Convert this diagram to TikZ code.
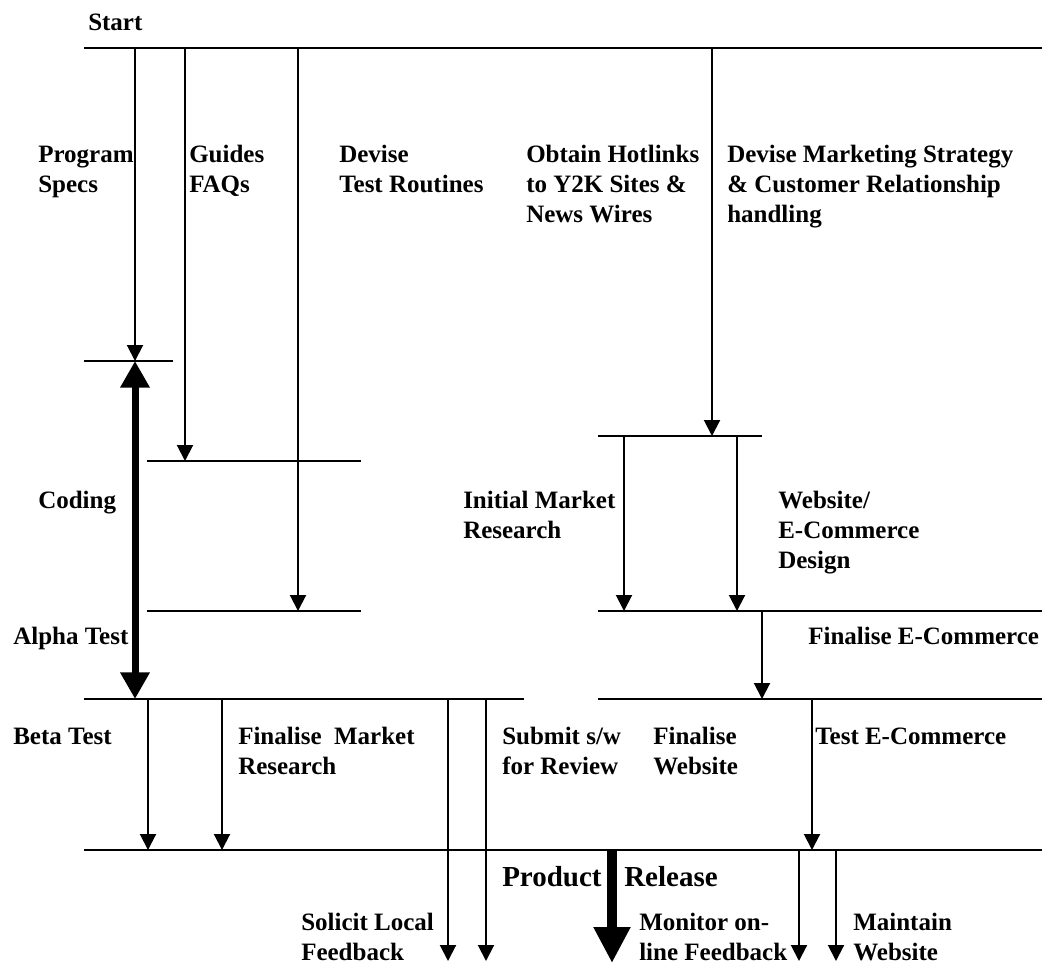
\documentclass[tikz,border=0pt]{standalone}
\usepackage{fontspec}
\setmainfont{Liberation Serif}
\usetikzlibrary{arrows.meta}
\newcommand\mylines[1]{\vtop{\halign{##\hfil\cr #1\crcr}}}
\tikzset{
  ln/.style={line width=1.5pt},
  arr/.style={line width=1.5pt,-{Triangle[width=12pt,length=12pt]}},
  bigarr/.style={line width=5.25pt,{Triangle[width=21pt,length=20pt]}-{Triangle[width=21pt,length=20pt]}},
  relarr/.style={line width=7.5pt,-{Triangle[width=26pt,length=27pt]}},
  lbl/.style={anchor=base west,inner sep=0pt,font=\fontsize{18.75pt}{22.5pt}\selectfont\bfseries},
  biglbl/.style={anchor=base west,inner sep=0pt,font=\fontsize{21.75pt}{26pt}\selectfont\bfseries}
}
\begin{document}
\begin{tikzpicture}[x=0.75pt,y=-0.75pt]
\useasboundingbox (0,0) rectangle (1042,965);
\clip (0,0) rectangle (1042,965);
% coordinates
\coordinate (t0) at (84,48);   \coordinate (t1) at (1042,48);
\coordinate (s1) at (135,48);  \coordinate (e1) at (135,361);
\coordinate (s2) at (185,48);  \coordinate (e2) at (185,461);
\coordinate (s3) at (298,48);  \coordinate (e3) at (298,611);
\coordinate (s4) at (712,48);  \coordinate (e4) at (712,436);
\coordinate (l1a) at (84,361); \coordinate (l1b) at (173,361);
\coordinate (l2a) at (147,461);\coordinate (l2b) at (361,461);
\coordinate (l3a) at (147,611);\coordinate (l3b) at (361,611);
\coordinate (l4a) at (598,436);\coordinate (l4b) at (762,436);
\coordinate (s5) at (624,436); \coordinate (e5) at (624,611);
\coordinate (s6) at (737,436); \coordinate (e6) at (737,611);
\coordinate (l5a) at (598,611);\coordinate (l5b) at (1042,611);
\coordinate (s7) at (762,611); \coordinate (e7) at (762,699);
\coordinate (l6a) at (84,699); \coordinate (l6b) at (524,699);
\coordinate (l7a) at (598,699);\coordinate (l7b) at (1042,699);
\coordinate (bt) at (135,361); \coordinate (bb) at (135,699);
\coordinate (s8) at (148,699); \coordinate (e8) at (148,850);
\coordinate (s9) at (222,699); \coordinate (e9) at (222,850);
\coordinate (s10) at (448,699);\coordinate (e10) at (448,961);
\coordinate (s11) at (486,699);\coordinate (e11) at (486,961);
\coordinate (s12) at (812,699);\coordinate (e12) at (812,850);
\coordinate (l8a) at (84,850); \coordinate (l8b) at (1042,850);
\coordinate (rs) at (612,850); \coordinate (re) at (612,963);
\coordinate (s13) at (799,850);\coordinate (e13) at (799,961);
\coordinate (s14) at (836,850);\coordinate (e14) at (836,961);
% horizontal bars
\draw[ln] (t0) -- (t1);
\draw[ln] (l1a) -- (l1b);
\draw[ln] (l2a) -- (l2b);
\draw[ln] (l3a) -- (l3b);
\draw[ln] (l4a) -- (l4b);
\draw[ln] (l5a) -- (l5b);
\draw[ln] (l6a) -- (l6b);
\draw[ln] (l7a) -- (l7b);
\draw[ln] (l8a) -- (l8b);
% arrows
\draw[arr] (s1) -- (e1);
\draw[arr] (s2) -- (e2);
\draw[arr] (s3) -- (e3);
\draw[arr] (s4) -- (e4);
\draw[arr] (s5) -- (e5);
\draw[arr] (s6) -- (e6);
\draw[arr] (s7) -- (e7);
\draw[arr] (s8) -- (e8);
\draw[arr] (s9) -- (e9);
\draw[arr] (s10) -- (e10);
\draw[arr] (s11) -- (e11);
\draw[arr] (s12) -- (e12);
\draw[arr] (s13) -- (e13);
\draw[arr] (s14) -- (e14);
\draw[bigarr] (bb) -- (bt);
\draw[relarr] (rs) -- (re);
% labels
\node[lbl] (start) at (88,30) {Start};
\node[lbl] (prog) at (38,162) {\mylines{Program\cr Specs}};
\node[lbl] (guides) at (189,162) {\mylines{Guides\cr FAQs}};
\node[lbl] (devise) at (339,162) {\mylines{Devise\cr Test Routines}};
\node[lbl] (hot) at (526,162) {\mylines{Obtain Hotlinks\cr to Y2K Sites \&\cr News Wires}};
\node[lbl] (mkt) at (727,162) {\mylines{Devise Marketing Strategy\cr \& Customer Relationship\cr handling}};
\node[lbl] (coding) at (38,508) {Coding};
\node[lbl] (imr) at (463,508) {\mylines{Initial Market\cr Research}};
\node[lbl] (web) at (778,508) {\mylines{Website/\cr E-Commerce\cr Design}};
\node[lbl] (alpha) at (13,644) {Alpha Test};
\node[lbl] (fec) at (808,644) {Finalise E-Commerce};
\node[lbl] (beta) at (13,744) {Beta Test};
\node[lbl] (fmr) at (238,744) {\mylines{Finalise\ \ Market\cr Research}};
\node[lbl] (sub) at (502,744) {\mylines{Submit s/w\cr for Review}};
\node[lbl] (fw) at (653,744) {\mylines{Finalise\cr Website}};
\node[lbl] (tec) at (815,744) {Test E-Commerce};
\node[biglbl] (prod) at (502,886) {Product};
\node[biglbl] (rel) at (624,886) {Release};
\node[lbl] (sol) at (301,930) {\mylines{Solicit Local\cr Feedback}};
\node[lbl] (mon) at (639,930) {\mylines{Monitor on-\cr line Feedback}};
\node[lbl] (mw) at (853,930) {\mylines{Maintain\cr Website}};
\end{tikzpicture}
\end{document}
